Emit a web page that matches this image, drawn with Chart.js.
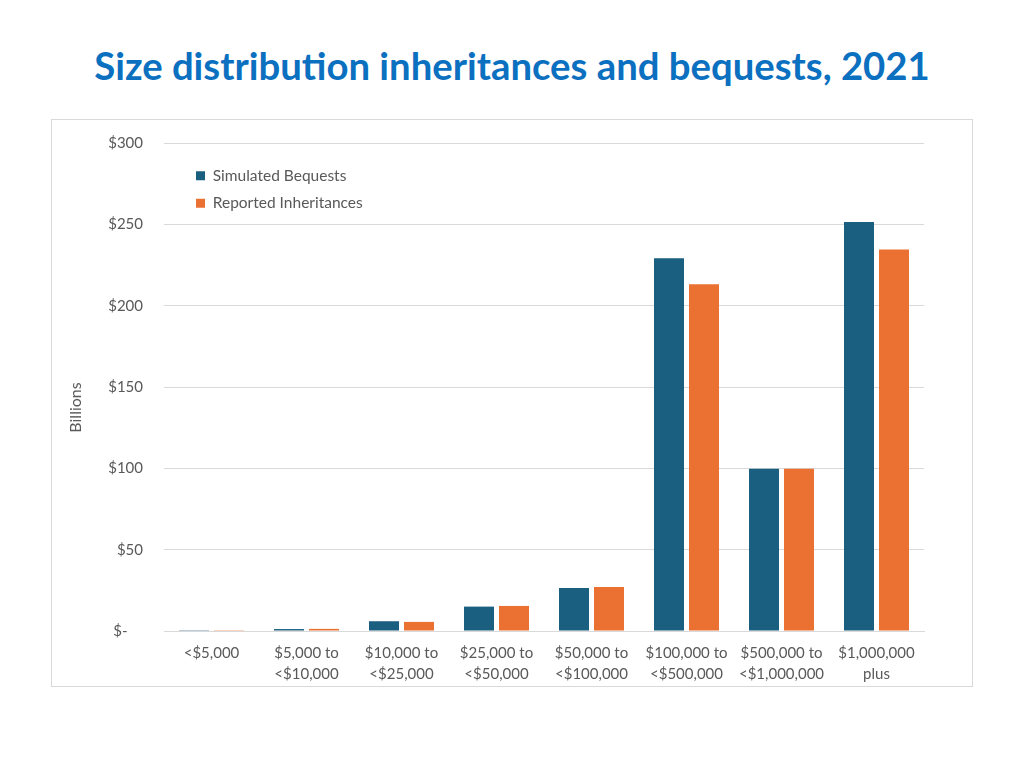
<!DOCTYPE html>
<html>
<head>
<meta charset="utf-8">
<script src="https://cdn.jsdelivr.net/npm/chart.js@4"></script>
<style>
  body { margin: 0; background: #fff; width: 1024px; height: 768px; position: relative; }
  h1 {
    position: absolute; left: 0; top: 42px; width: 1024px; margin: 0;
    text-align: center; font: 700 38.3px Lato, sans-serif; color: #0b70bf;
  }
  #box {
    position: absolute; left: 51px; top: 119px; width: 920px; height: 566px;
    border: 1px solid #d9d9d9;
  }
</style>
</head>
<body>
<h1>Size distribution inheritances and bequests, 2021</h1>
<div id="box"><canvas id="chart"></canvas></div>
<script>
// size brackets (x axis)
const categories = [
  ['<$5,000'],
  ['$5,000 to', '<$10,000'],
  ['$10,000 to', '<$25,000'],
  ['$25,000 to', '<$50,000'],
  ['$50,000 to', '<$100,000'],
  ['$100,000 to', '<$500,000'],
  ['$500,000 to', '<$1,000,000'],
  ['$1,000,000', 'plus']
];
// billions of dollars
const simulatedBequests = [0.5, 1.2, 6.0, 15.0, 26.5, 229.2, 99.8, 251.5];
const reportedInheritances = [0.5, 1.3, 5.6, 15.4, 27.0, 213.2, 99.8, 234.6];
const yTicks = [0, 50, 100, 150, 200, 250, 300];

const BLUE = '#1a5f80';
const ORANGE = '#ea7132';
const FONT = 'Lato, sans-serif';

// nudge the in-plot legend to where the original sits
const legendOffset = {
  id: 'legendOffset',
  afterLayout(chart) {
    const l = chart.legend;
    l.left += 20; l.right += 20;
    l.top += 36; l.bottom += 36;
  }
};

const ctx = document.getElementById('chart');
ctx.width = 920;
ctx.height = 566;

new Chart(ctx, {
  type: 'bar',
  data: {
    labels: categories,
    datasets: [
      { label: 'Simulated Bequests', data: simulatedBequests, backgroundColor: BLUE },
      { label: 'Reported Inheritances', data: reportedInheritances, backgroundColor: ORANGE }
    ]
  },
  options: {
    responsive: false,
    animation: false,
    devicePixelRatio: 1,
    categoryPercentage: 0.737,
    barPercentage: 0.857,
    layout: { padding: { left: 14, right: 48, top: 23, bottom: 0 } },
    plugins: {
      tooltip: { enabled: false },
      legend: {
        position: 'chartArea',
        align: 'start',
        labels: {
          boxWidth: 9, boxHeight: 9, padding: 12,
          color: '#595959', font: { family: FONT, size: 15.5 }
        }
      }
    },
    scales: {
      x: {
        grid: { display: false },
        border: { color: '#d9d9d9' },
        ticks: {
          color: '#595959', font: { family: FONT, size: 15, lineHeight: 1.4 },
          padding: 4, maxRotation: 0, autoSkip: false
        },
        afterFit: s => { s.height = 55; }
      },
      y: {
        min: 0, max: 300,
        afterBuildTicks: s => { s.ticks = yTicks.map(v => ({ value: v })); },
        grid: { color: '#d9d9d9', drawTicks: false },
        border: { display: false },
        ticks: {
          color: '#595959', font: { family: FONT, size: 15 }, padding: 21,
          callback: v => v === 0 ? '$-    ' : '$' + v
        },
        title: {
          display: true, text: 'Billions          ', color: '#595959',
          font: { family: FONT, size: 16 }, padding: 0
        },
        afterFit: s => { s.width = 98; s.paddingTop = 0; s.paddingBottom = 0; }
      }
    }
  },
  plugins: [legendOffset]
});
</script>
</body>
</html>
